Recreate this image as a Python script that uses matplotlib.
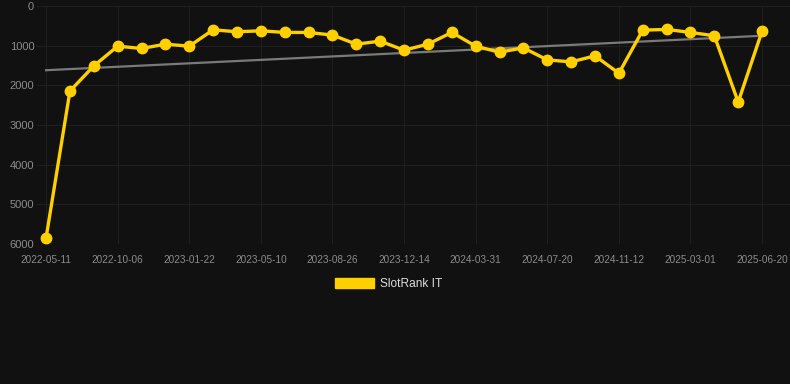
# -------------------------------
# SlotRank IT ranking chart
# -------------------------------

import numpy as np
import matplotlib
matplotlib.use("Agg")
import matplotlib.pyplot as plt
from matplotlib.patches import Patch

plt.rcParams['font.family'] = ['Liberation Sans', 'DejaVu Sans']

# --- data ---
dates = [
    "2022-05-11", "2022-06-27", "2022-08-17", "2022-10-06", "2022-11-10",
    "2022-12-17", "2023-01-22", "2023-02-28", "2023-04-04", "2023-05-10",
    "2023-06-15", "2023-07-21", "2023-08-26", "2023-10-01", "2023-11-07",
    "2023-12-14", "2024-01-20", "2024-02-24", "2024-03-31", "2024-05-06",
    "2024-06-13", "2024-07-20", "2024-08-26", "2024-10-04", "2024-11-12",
    "2024-12-18", "2025-01-24", "2025-03-01", "2025-04-07", "2025-05-14",
    "2025-06-20",
]
ranks = [
    5848, 2144, 1511, 1013, 1071, 962, 1013, 600, 650, 625,
    666, 666, 734, 962, 886, 1114, 962, 666, 1013, 1165,
    1055, 1359, 1409, 1257, 1696, 608, 591, 666, 751, 2422,
    633,
]
series_name = "SlotRank IT"
y_ticks = [0, 1000, 2000, 3000, 4000, 5000, 6000]

# --- colours ---
BG = "#111111"
YELLOW = "#ffd000"
GRID = "#1f1f1f"
LABEL = "#8c8c8c"

x = np.arange(len(ranks))
slope, intercept = np.polyfit(x, ranks, 1)  # trend line
trend = slope * x + intercept

fig = plt.figure(figsize=(7.9, 3.84), dpi=100, facecolor=BG)
ax = fig.add_axes([37 / 790, 1 - 244 / 384, 753 / 790, 238 / 384])
ax.set_facecolor(BG)

ax.plot(x[[0, -1]], trend[[0, -1]], color="#7a7a7a", linewidth=1.6, zorder=2)
ax.plot(x, ranks, color=YELLOW, linewidth=2.4, marker="o", markersize=7.5,
        markerfacecolor=YELLOW, markeredgecolor=YELLOW, zorder=3)

# --- axes ---
ax.set_ylim(6000, 0)
ax.set_xlim(-0.38, 31.17)
ax.set_yticks(y_ticks)
ax.set_yticklabels([str(v) for v in y_ticks])
ax.set_xticks(x[::3])
ax.set_xticklabels(dates[::3])
ax.tick_params(axis="y", length=0, pad=2, labelsize=8, labelcolor=LABEL)
ax.tick_params(axis="x", length=0, pad=8, labelsize=7.2, labelcolor=LABEL)
ax.grid(True, color=GRID, linewidth=0.8, zorder=0)
ax.set_axisbelow(True)
for s in ax.spines.values():
    s.set_visible(False)

# --- legend ---
handle = Patch(facecolor=YELLOW, edgecolor=YELLOW)
leg = fig.legend([handle], [series_name], loc="center",
                 bbox_to_anchor=(0.492, 1 - 284 / 384), frameon=False,
                 fontsize=8.6, handlelength=3.3, handleheight=0.9,
                 handletextpad=0.5)
for t in leg.get_texts():
    t.set_color("#dddddd")

fig.savefig("out.png", dpi=100, facecolor=BG)
